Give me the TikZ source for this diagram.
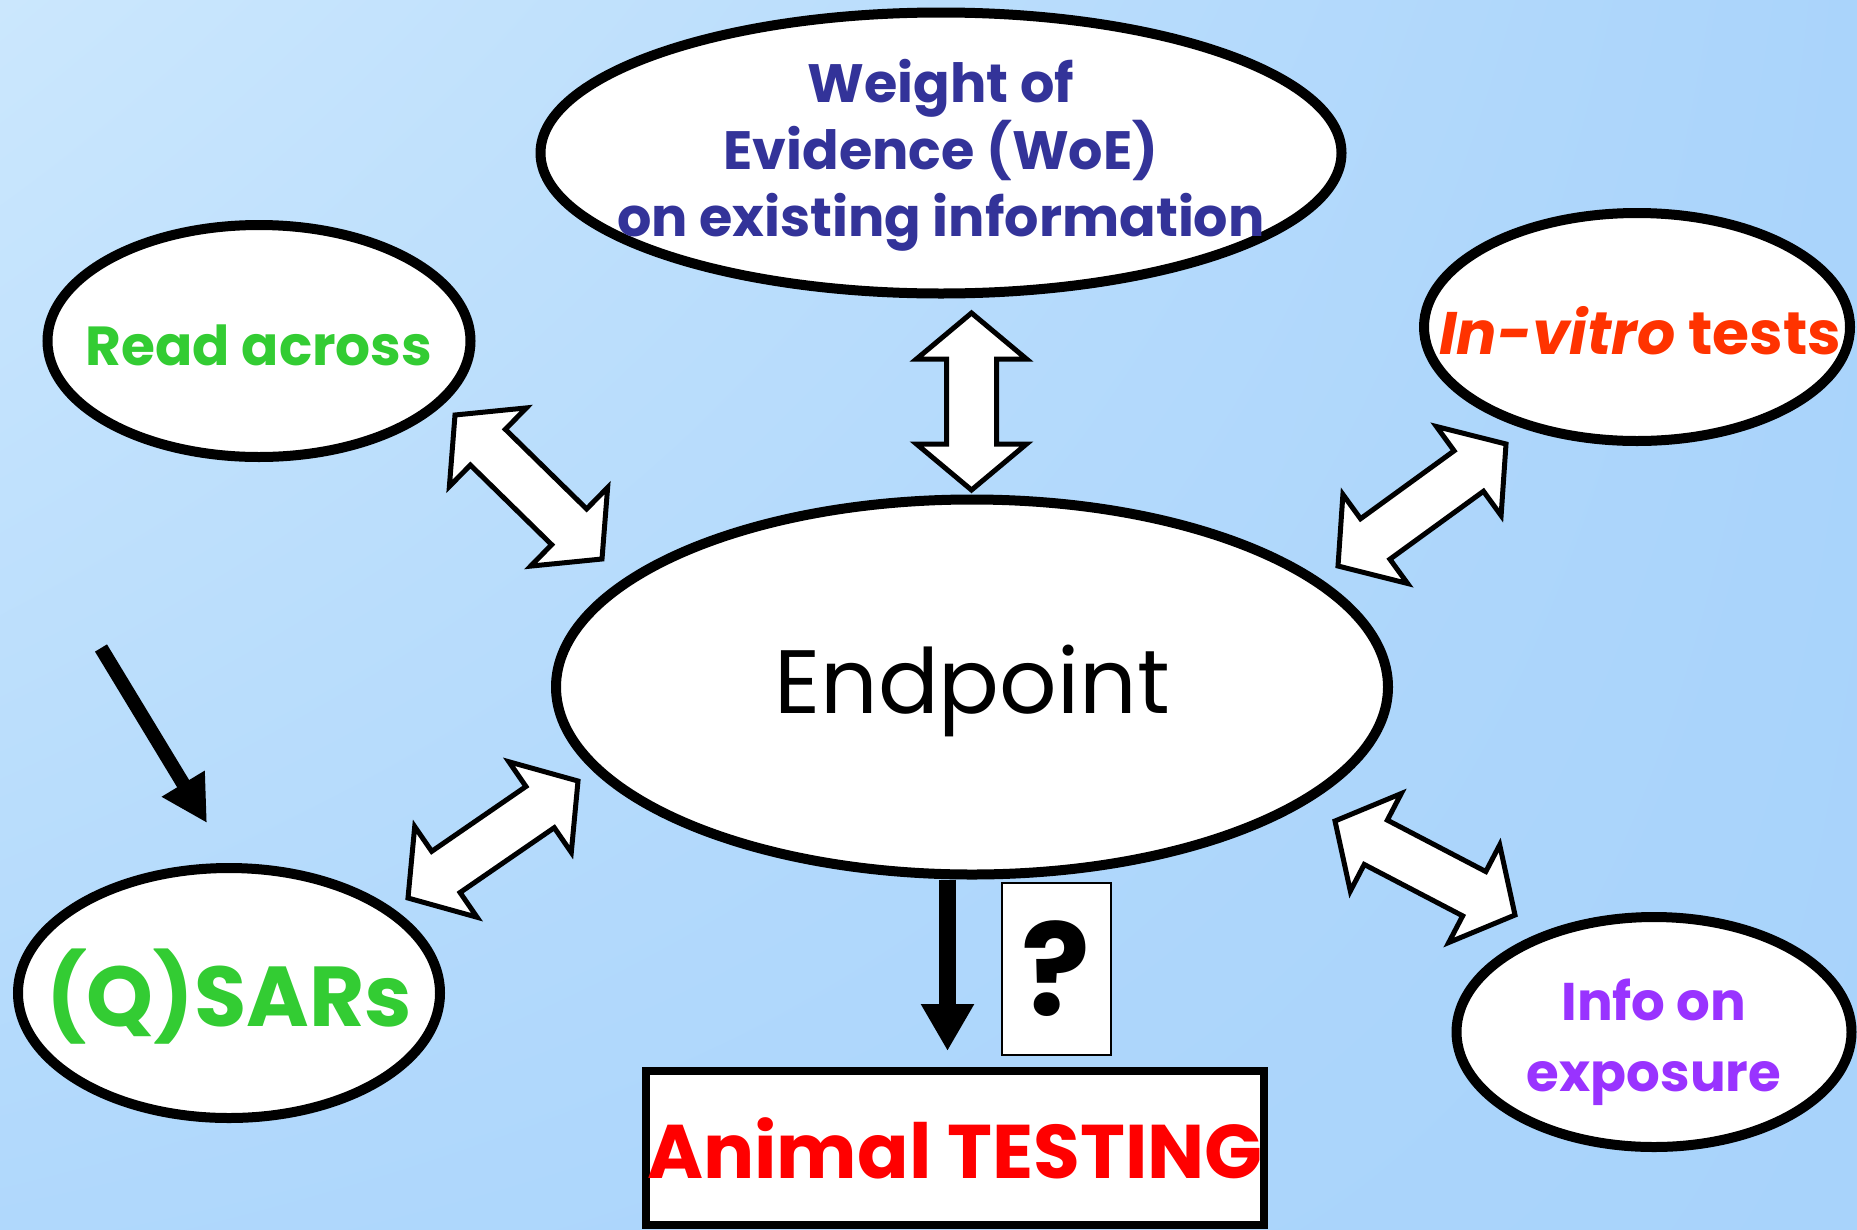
\documentclass[tikz,border=0pt]{standalone}
\usepackage{fontspec}
\setmainfont{Poppins}
\usetikzlibrary{shapes.geometric,arrows.meta,calc,shadings}

\definecolor{woeblue}{HTML}{333399}
\definecolor{qgreen}{HTML}{33CC33}
\definecolor{vitrored}{HTML}{FF3300}
\definecolor{expurple}{HTML}{9933FF}
\definecolor{bgul}{HTML}{CBE7FD}
\definecolor{bgur}{HTML}{AAD4FB}
\definecolor{bgll}{HTML}{B0D8FC}
\definecolor{bglr}{HTML}{A8D3FB}

\tikzset{
  bubble/.style={ellipse, draw=black, line width=10pt, fill=white, inner sep=0pt},
  bubbletext/.style={align=center, inner sep=0pt, font=\bfseries},
  blockarrow/.style={draw=black, fill=white, line width=5pt, line join=miter},
  blackarrow/.style={draw=black, line width=17pt, -{Triangle[length=47pt,width=50pt]}},
}

% white double block arrow between two coordinates
\newcommand\dblarrow[2]{%
  \draw[blockarrow] (#1)
    -- ($(#1)!46pt!(#2)!55pt!90:(#2)$)
    -- ($(#1)!46pt!(#2)!25pt!90:(#2)$)
    -- ($(#2)!46pt!(#1)!25pt!-90:(#1)$)
    -- ($(#2)!46pt!(#1)!55pt!-90:(#1)$)
    -- (#2)
    -- ($(#2)!46pt!(#1)!55pt!90:(#1)$)
    -- ($(#2)!46pt!(#1)!25pt!90:(#1)$)
    -- ($(#1)!46pt!(#2)!25pt!-90:(#2)$)
    -- ($(#1)!46pt!(#2)!55pt!-90:(#2)$)
    -- cycle;}

\begin{document}
\begin{tikzpicture}[x=1pt,y=-1pt]
  \useasboundingbox (0,0) rectangle (1857,1229);
  \shade[upper left=bgul, upper right=bgur, lower left=bgll, lower right=bglr]
    (0,0) rectangle (1857,1229);

  % ellipses
  \node[bubble, minimum width=801pt, minimum height=281pt,
    label={[bubbletext, text=woeblue, font=\bfseries\fontsize{54}{67}\selectfont, yshift=-2pt]center:Weight of\\Evidence (WoE)\\on existing information}]
    (woe) at (941,153) {};
  \node[bubble, minimum width=423pt, minimum height=232pt,
    label={[bubbletext, text=qgreen, font=\bfseries\fontsize{55}{70}\selectfont, yshift=-4pt]center:Read across}]
    (read) at (259,341) {};
  \node[bubble, minimum width=426pt, minimum height=228pt,
    label={[bubbletext, text=vitrored, font=\bfseries\fontsize{60}{70}\selectfont, xshift=3pt, yshift=-4pt]center:\textit{In-vitro} tests}]
    (vitro) at (1637,327) {};
  \node[bubble, minimum width=832pt, minimum height=375pt,
    label={[bubbletext, font=\fontsize{90}{100}\selectfont, yshift=-4pt]center:Endpoint}]
    (endp) at (972,687) {};
  \node[bubble, minimum width=422pt, minimum height=250pt,
    label={[bubbletext, text=qgreen, font=\bfseries\fontsize{85}{100}\selectfont, yshift=-4pt]center:(Q)SARs}]
    (qsar) at (229,993) {};
  \node[bubble, minimum width=395pt, minimum height=230pt,
    label={[bubbletext, text=expurple, font=\bfseries\fontsize{53}{71}\selectfont, yshift=-10pt]center:Info on\\exposure}]
    (info) at (1654,1032) {};

  % boxes
  \node[draw=black, line width=8pt, fill=white, inner sep=0pt,
    minimum width=618pt, minimum height=154pt, text=red,
    font=\bfseries\fontsize{76}{80}\selectfont] (test) at (955,1148) {Animal TESTING};
  \node[draw=black, line width=2pt, fill=white, inner sep=0pt,
    minimum width=109pt, minimum height=172pt,
    font=\bfseries\fontsize{128}{128}\selectfont] (ques) at (1056,969) {?};

  % double arrows
  \coordinate (woeA) at (971.5,313);
  \coordinate (woeB) at (971.5,490);
  \coordinate (readA) at (455,415);
  \coordinate (readB) at (602,559);
  \coordinate (vitroA) at (1338,566);
  \coordinate (vitroB) at (1506,444);
  \coordinate (qsarA) at (408,898);
  \coordinate (qsarB) at (578,781);
  \coordinate (infoA) at (1335,821);
  \coordinate (infoB) at (1515,915);
  \dblarrow{woeA}{woeB}
  \dblarrow{readA}{readB}
  \dblarrow{vitroA}{vitroB}
  \dblarrow{qsarA}{qsarB}
  \dblarrow{infoA}{infoB}

  % black arrows
  \draw[blackarrow] ([xshift=-24.5pt]endp.south) -- ([xshift=-24.5pt]endp.south |- test.north)
    [shorten >=16pt];
  \coordinate (qin) at (101,648);
  \coordinate (qtip) at (207,823);
  \draw[blackarrow, line width=14pt, -{Triangle[length=46pt,width=47pt]}] (qin) -- (qtip);
\end{tikzpicture}
\end{document}
